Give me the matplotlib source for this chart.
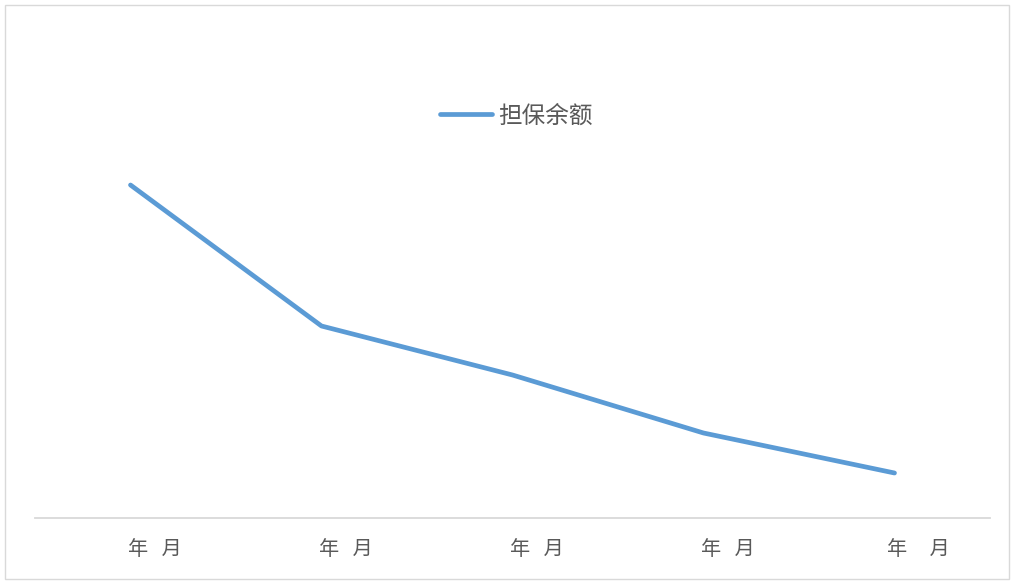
import matplotlib.pyplot as plt
from matplotlib.patches import Rectangle
from matplotlib.transforms import ScaledTranslation

plt.rcParams['font.family'] = ['Noto Sans CJK SC', 'DejaVu Sans']

# data (arbitrary units)
labels = ['年   月', '年   月', '年   月', '年   月', '年     月']
balance = [333, 192, 143, 85, 45]
series_name = '担保余额'

fig = plt.figure(figsize=(10.11, 5.81), dpi=100)
fig.patches.append(Rectangle((5 / 1011, 2 / 581), 1004 / 1011, 574 / 581,
                             transform=fig.transFigure, fill=False,
                             edgecolor='#D9D9D9', linewidth=1))

ax = fig.add_axes([35 / 1011, 63 / 581, 955 / 1011, 488 / 581])
x = range(len(balance))
ax.plot(x, balance, color='#5B9BD5', linewidth=3.4, solid_capstyle='round',
        label=series_name)

ax.set_xlim(-0.5, len(balance) - 0.5)
ax.set_ylim(0, 488)
ax.set_yticks([])
ax.set_xticks(list(x))
ax.set_xticklabels(labels, fontsize=14.5, color='#595959')
ax.tick_params(axis='x', length=0, pad=15)
offset = ScaledTranslation(24 / 100, 0, fig.dpi_scale_trans)
for lab in ax.get_xticklabels():
    lab.set_transform(lab.get_transform() + offset)

for side in ['top', 'left', 'right']:
    ax.spines[side].set_visible(False)
ax.spines['bottom'].set_color('#D9D9D9')
ax.spines['bottom'].set_linewidth(1.3)

leg = ax.legend(loc='center', bbox_to_anchor=(516 / 1011, 1 - 116 / 581),
                bbox_transform=fig.transFigure, frameon=False, fontsize=17,
                handlelength=2.2, handletextpad=0.25)
for t in leg.get_texts():
    t.set_color('#595959')

fig.savefig('out.png', dpi=100)
